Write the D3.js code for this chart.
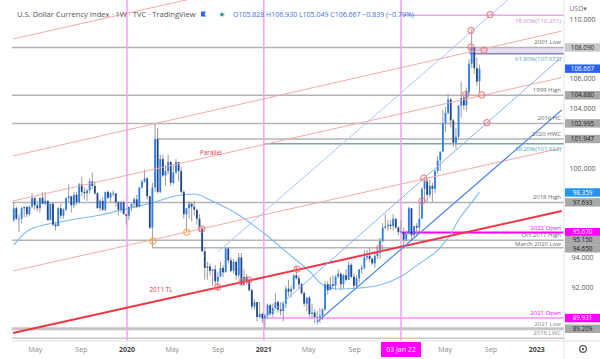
<!DOCTYPE html>
<html><head><meta charset="utf-8">
<script src="https://cdn.jsdelivr.net/npm/d3@7"></script>
<style>
body{margin:0;background:#fff;}
svg{display:block;font-family:"Open Sans","DejaVu Sans",sans-serif;}
</style></head><body>
<svg id="c" width="600" height="359"></svg>
<script>
// ---------- DATA ----------
const firstWeek = "2019-03-04";
const lastWeek = "2022-08-01";
const opens = [96.5,97.3,96.6,96.6,97.3,97.4,96.9,97.4,98.0,97.5,97.3,98.0,97.6,97.8,96.5,97.6,96.2,96.1,97.3,96.8,97.2,98.0,98.1,97.5,98.2,97.7,98.9,98.4,98.3,98.5,99.1,98.8,98.3,97.3,97.8,97.2,98.4,98.0,98.3,98.3,97.7,97.2,97.7,96.9,
96.8,97.4,97.6,97.9,97.4,98.7,99.1,99.3,98.1,96.0,98.7,101.95,98.4,100.6,99.5,99.8,100.4,99.0,99.7,100.4,99.8,98.4,96.9,97.3,97.6,97.4,97.2,96.6,96.0,94.4,93.3,93.4,93.1,93.2,92.4,92.7,93.3,93.0,94.6,93.8,93.1,93.7,92.8,94.0,92.2,92.7,92.4,91.8,90.7,91.0,90.0,90.2,
89.9,90.1,90.8,90.2,90.6,91.0,90.5,90.4,90.9,91.9,91.7,91.9,92.8,92.6,92.2,91.6,90.9,91.3,90.2,90.3,90.0,90.0,90.1,90.5,92.2,91.8,92.2,92.1,92.7,92.9,92.2,92.8,92.5,93.5,92.7,92.1,92.6,93.2,93.3,94.0,94.1,93.9,93.6,94.1,94.3,95.1,96.0,96.1,96.2,96.1,96.6,96.0,
95.67,95.7,95.2,95.6,97.3,95.5,96.1,96.0,96.6,98.6,99.1,98.2,98.8,98.6,99.8,100.5,101.1,103.0,103.7,104.6,103.2,101.7,102.1,104.2,104.7,104.2,105.1,107.0,108.1,106.7,105.828];
const highs = [97.7,97.4,96.9,97.4,97.4,97.4,97.5,98.3,98.0,97.8,98.0,98.4,98.4,97.8,97.6,97.7,96.4,97.4,97.6,97.3,98.0,98.9,98.1,98.4,98.4,99.0,99.4,98.7,98.6,99.3,99.7,99.1,98.4,97.9,98.0,98.4,98.5,98.4,98.5,98.3,97.8,97.8,97.8,96.9,
97.4,97.6,98.0,98.2,98.7,99.2,99.9,99.4,98.1,99.0,102.99,102.7,100.9,100.9,100.2,100.9,100.5,100.2,100.6,100.4,100.1,98.5,97.3,97.8,97.7,97.8,97.2,96.9,96.0,94.7,93.7,93.6,93.2,93.5,93.0,93.7,93.5,94.7,94.7,94.0,93.9,93.8,94.3,94.3,93.2,92.9,92.6,91.9,91.2,91.0,91.0,90.3,
90.2,90.9,90.9,90.9,91.6,91.1,91.0,91.0,92.1,92.5,92.1,92.9,93.4,92.8,92.3,91.7,91.3,91.4,90.9,90.5,90.4,90.6,90.6,92.4,92.4,92.7,92.8,92.8,93.2,93.0,92.9,93.2,93.7,93.6,92.9,92.8,93.2,93.5,94.5,94.5,94.6,94.0,94.3,94.6,95.3,96.3,96.9,96.5,96.5,96.9,96.6,96.1,
96.5,96.0,95.8,97.4,97.3,96.1,96.3,97.7,98.7,99.4,99.3,99.2,99.0,99.9,100.8,101.1,103.9,104.1,105.0,104.7,103.3,102.7,104.2,105.8,104.8,105.4,107.3,109.3,108.1,107.4,106.93];
const lows = [96.4,96.5,95.7,96.3,96.7,96.7,96.8,97.3,97.2,97.1,97.0,97.6,97.5,96.5,96.5,96.1,95.8,96.1,96.6,96.6,97.1,97.7,97.0,97.3,97.5,97.6,98.1,97.9,97.8,98.3,98.6,98.2,97.3,97.1,97.1,97.1,97.9,97.7,98.1,97.4,96.8,97.0,96.9,96.2,
96.5,97.1,97.3,97.3,97.4,98.6,99.0,97.9,95.9,94.65,98.4,98.3,98.3,99.4,98.8,99.6,98.8,98.9,99.6,99.1,98.3,96.6,95.7,96.6,96.4,96.8,96.2,95.7,94.4,92.5,92.5,92.8,92.1,92.1,91.75,92.7,92.7,93.0,93.6,93.0,92.9,92.5,92.6,92.1,92.1,92.2,91.7,90.5,90.5,89.7,89.9,89.6,
89.2,89.9,90.1,90.0,90.6,90.3,90.1,89.7,90.6,91.4,91.3,91.8,92.5,91.9,91.5,90.7,90.4,89.98,89.9,89.6,89.5,89.6,89.8,90.4,91.5,91.8,91.9,91.8,92.6,91.8,91.9,92.4,92.5,92.6,91.9,92.0,92.3,92.9,93.2,93.8,93.7,93.5,93.3,93.9,93.9,95.0,95.9,95.8,95.9,95.8,95.9,95.5,
95.67,94.6,95.0,95.6,95.1,95.3,95.5,95.7,96.6,97.7,97.7,98.0,97.7,98.3,99.6,99.8,101.1,102.4,103.6,102.7,101.4,101.3,101.9,103.4,103.9,103.8,104.9,106.7,106.3,105.5,105.049];
const closes = [97.3,96.6,96.6,97.3,97.4,96.9,97.4,98.0,97.5,97.3,98.0,97.6,97.8,96.5,97.6,96.2,96.1,97.3,96.8,97.2,98.0,98.1,97.5,98.2,97.7,98.9,98.4,98.3,98.5,99.1,98.8,98.3,97.3,97.8,97.2,98.4,98.0,98.3,98.3,97.7,97.2,97.7,96.9,96.8,
97.4,97.6,97.9,97.4,98.7,99.1,99.3,98.1,96.0,98.7,101.95,98.4,100.6,99.5,99.8,100.4,99.0,99.7,100.4,99.8,98.4,96.9,97.3,97.6,97.4,97.2,96.6,96.0,94.4,93.3,93.4,93.1,93.2,92.4,92.7,93.3,93.0,94.6,93.8,93.1,93.7,92.8,94.0,92.2,92.7,92.4,91.8,90.7,91.0,90.0,90.2,89.9,
90.1,90.8,90.2,90.6,91.0,90.5,90.4,90.9,91.9,91.7,91.9,92.8,92.6,92.2,91.6,90.9,91.3,90.2,90.3,90.0,90.0,90.1,90.5,92.2,91.8,92.2,92.1,92.7,92.9,92.2,92.8,92.5,93.5,92.7,92.1,92.6,93.2,93.3,94.0,94.1,93.9,93.6,94.1,94.3,95.1,96.0,96.1,96.2,96.1,96.6,96.0,95.7,
95.74,95.2,95.6,97.3,95.5,96.1,96.0,96.6,98.6,99.1,98.2,98.8,98.6,99.8,100.5,101.1,103.0,103.7,104.6,103.2,101.7,102.1,104.2,104.7,104.2,105.1,107.0,108.1,106.7,105.8,106.667];

// 52-week moving average
const maDates = ["2019-03-04","2019-04-14","2019-07-06","2019-10-21","2020-01-09","2020-03-16","2020-05-08","2020-07-01","2020-08-10","2020-10-29","2021-01-04","2021-03-12","2021-05-05","2021-06-08","2021-07-16","2021-09-15","2021-11-08","2021-12-31","2022-02-23","2022-04-17","2022-05-14","2022-06-09","2022-07-06","2022-08-01"];
const maValues = [94.83,95.84,96.38,96.85,97.32,97.72,98.12,98.26,97.85,96.80,95.57,94.16,93.02,92.15,91.88,91.95,92.15,92.68,93.62,94.63,95.50,96.64,97.52,98.36];

// horizontal levels
const levelNames  = ["78.60%(110.251)","2001 Low","1999 High","2016 HC","2020 HWC","38.20%(101.622)","2018 High","2022 Open","Oct 2017 High","March 2020 Low","2021 Open","2021 Low","2018 LWC"];
const levelPrices = [110.251,108.090,104.880,102.995,101.947,101.622,97.693,95.670,95.150,94.650,89.931,89.209,88.57];
const levelStarts = ["2022-01-03",null,null,null,"2020-03-23","2021-01-04",null,"2022-01-03",null,"2020-03-09","2021-01-01",null,null];

// fib zone (61.8%)
const zoneName = "61.80%(107.672)";
const zoneTop = 108.090, zoneBottom = 107.672;
const zoneStart = "2022-07-06", zoneEnd = "2023-06-01";

// price-axis tags
const tagPrices = [94.650,95.150,95.670,89.209,89.931,97.693,98.359,101.947,102.995,104.880,106.667,108.090];
const tagKinds  = ["gray","gray","magenta","gray","magenta","gray","ma","gray","gray","gray","last","light"];
const priceTicks = [90,92,94,96,98,100,102,104,106,108,110];

// trend lines [date, price] -> [date, price]
const trendNames = ["P1","P2","P3","P4","TL","BLtop","BLmid","BLlow"];
const trendStartDates = ["2019-03-02","2019-03-02","2019-03-02","2019-03-02","2019-03-02","2020-08-31","2020-12-27","2021-05-23"];
const trendStartPrices = [108.66,100.81,97.79,93.09,88.93,94.36,89.73,89.66];
const trendEndDates = ["2023-03-09","2023-03-09","2023-03-09","2023-03-09","2023-03-09","2022-10-16","2023-03-09","2023-03-09"];
const trendEndPrices = [116.95,109.19,106.07,101.34,97.11,111.28,107.45,103.89];

// annotation circles
const circleDates  = ["2020-07-19","2020-08-31","2020-11-03","2020-11-22","2021-03-31","2021-11-07","2022-02-28","2022-03-05","2022-06-25","2022-08-07","2022-07-09","2022-07-09","2022-08-13","2022-08-29","2022-08-21","2020-03-10","2020-06-09"];
const circlePrices = [95.91,92.01,92.35,92.48,93.22,94.63,97.79,99.33,104.93,104.90,109.23,108.12,107.92,110.29,103.04,95.10,95.70];
const circleKinds  = ["r","r","r","r","r","r","r","r","r","r","r","r","r","r","r","o","o"];

// vertical markers
const vlineDates = ["2020-01-01","2021-01-01","2022-01-03"];

// time axis
const timeTickDates  = ["2019-05-01","2019-09-01","2020-01-01","2020-05-01","2020-09-01","2021-01-01","2021-05-01","2021-09-01","2022-05-01","2022-09-01","2023-01-01"];
const timeTickLabels = ["May","Sep","2020","May","Sep","2021","May","Sep","May","Sep","2023"];
const markerDate = "2022-01-03", markerLabel = "03 Jan 22";

const textNotes = ["Parallel","2011 TL"];
const noteDates = ["2020-07-14","2020-03-01"];
const notePrices = [100.9,91.7];

const headerTitle = "U.S. Dollar Currency Index · 1W · TVC · TradingView";
const headerOHLC = "O105.828 H106.930 L105.049 C106.667 −0.839 (−0.79%)";

// ---------- STYLES ----------
const GRAY = {color:"#b4b4b4", w:1.5, label:"#6a6a6a", pos:"above"};
const levelStyle = {
  "78.60%(110.251)": {color:"#e8a8e8", w:1.5, label:"#c98bd6", pos:"below"},
  "2001 Low": GRAY, "1999 High": GRAY, "2016 HC": GRAY, "2020 HWC": GRAY,
  "38.20%(101.622)": {color:"#78a6ae", w:1.5, label:"#4a9fc4", pos:"below"},
  "2018 High": GRAY,
  "2022 Open": {color:"#ff00ff", w:2, label:"#ff00ff", pos:"above"},
  "Oct 2017 High": {color:"#b4b4b4", w:1.5, label:"#6a6a6a", pos:"above", dy:-0.6},
  "March 2020 Low": {color:"#b4b4b4", w:1.5, label:"#6a6a6a", pos:"above", dy:1},
  "2021 Open": {color:"#ff8cff", w:1.5, label:"#ff00ff", pos:"above"},
  "2021 Low": {color:"#c4c4c4", w:3, label:"#8a8a8a", pos:"above"},
  "2018 LWC": {color:"#c8c8c8", w:1.5, label:"#8a8a8a", pos:"above"}
};
const tagStyle = {
  gray:{bg:"#a8a8a8", fg:"#1e1e1e"}, light:{bg:"#c9c9c9", fg:"#1e1e1e"},
  magenta:{bg:"#ff00ff", fg:"#ffffff"}, ma:{bg:"#2196f3", fg:"#ffffff"}, last:{bg:"#2962ff", fg:"#ffffff"}
};
const trendStyle = {
  P1:{c:"#f7a9a9",w:1}, P2:{c:"#f7a9a9",w:1}, P3:{c:"#f7a9a9",w:1}, P4:{c:"#f7a9a9",w:1},
  TL:{c:"#f23645",w:2}, BLtop:{c:"#a9c7f5",w:1}, BLmid:{c:"#8ab3f0",w:1}, BLlow:{c:"#4f88e6",w:1.2}
};

// ---------- CHART ----------
const W = 600, H = 359, L = 12, R = 564, T = 0, B = 341;
const P = s => new Date(s + "T00:00:00Z");
const svg = d3.select("#c");
svg.append("rect").attr("width", W).attr("height", H).attr("fill", "#fff");

const x = d3.scaleUtc().domain([P("2020-01-01"), P("2022-01-03")]).range([127, 401]);
const y = d3.scaleLinear().domain([88.39, 111.275]).range([B, T]);

svg.append("defs").append("clipPath").attr("id", "plot")
  .append("rect").attr("x", L).attr("y", T).attr("width", R - L).attr("height", B - T);
const g = svg.append("g").attr("clip-path", "url(#plot)");

// fib zone
g.append("rect")
  .attr("x", x(P(zoneStart))).attr("width", x(P(zoneEnd)) - x(P(zoneStart)))
  .attr("y", y(zoneTop)).attr("height", y(zoneBottom) - y(zoneTop))
  .attr("fill", "#e6dcf3");
g.append("line").attr("x1", x(P(zoneStart))).attr("x2", x(P(zoneEnd)))
  .attr("y1", y(zoneBottom)).attr("y2", y(zoneBottom)).attr("stroke", "#7f86c4").attr("stroke-width", 1.6);
g.append("line").attr("x1", x(P(zoneStart))).attr("x2", x(P(zoneStart)))
  .attr("y1", y(zoneTop)).attr("y2", y(zoneBottom)).attr("stroke", "#b9a6dc").attr("stroke-width", 1);

// level lines
const levels = levelNames.map((n, i) => ({name: n, price: levelPrices[i], start: levelStarts[i]}));
g.selectAll("line.lvl").data(levels).join("line").attr("class", "lvl")
  .attr("x1", d => d.start ? x(P(d.start)) : L).attr("x2", R)
  .attr("y1", d => y(d.price)).attr("y2", d => y(d.price))
  .attr("stroke", d => levelStyle[d.name].color).attr("stroke-width", d => levelStyle[d.name].w);

// vertical markers
g.selectAll("line.vl").data(vlineDates).join("line").attr("class", "vl")
  .attr("x1", d => x(P(d))).attr("x2", d => x(P(d))).attr("y1", T).attr("y2", B)
  .attr("stroke", "#f6a6f6").attr("stroke-width", 1.6);

// MA
const ma = maDates.map((d, i) => ({d: P(d), v: maValues[i]}));
g.append("path").datum(ma)
  .attr("d", d3.line().x(d => x(d.d)).y(d => y(d.v)).curve(d3.curveMonotoneX))
  .attr("fill", "none").attr("stroke", "#7dbbf2").attr("stroke-width", 1.1);

// candles
const weeks = d3.utcMonday.range(P(firstWeek), d3.utcDay.offset(P(lastWeek), 1));
const candles = weeks.map((d, i) => ({d, o: opens[i], h: highs[i], l: lows[i], c: closes[i]}));
const bw = (x(P("2020-01-08")) - x(P("2020-01-01"))) * 0.7;
const cg = g.append("g");
cg.selectAll("line.wick").data(candles).join("line").attr("class", "wick")
  .attr("x1", d => x(d.d)).attr("x2", d => x(d.d))
  .attr("y1", d => y(d.h)).attr("y2", d => y(d.l))
  .attr("stroke", "#9c9c9c").attr("stroke-width", 1);
cg.selectAll("rect.body").data(candles).join("rect").attr("class", "body")
  .attr("x", d => x(d.d) - bw / 2).attr("width", bw)
  .attr("y", d => y(Math.max(d.o, d.c)))
  .attr("height", d => Math.max(0.8, Math.abs(y(d.o) - y(d.c))))
  .attr("fill", d => d.c >= d.o ? "#2d7ff0" : "#24488a");

// trend lines
const trends = trendNames.map((n, i) => ({n, x1: P(trendStartDates[i]), y1: trendStartPrices[i], x2: P(trendEndDates[i]), y2: trendEndPrices[i]}));
g.selectAll("line.tr").data(trends).join("line").attr("class", "tr")
  .attr("x1", d => x(d.x1)).attr("y1", d => y(d.y1)).attr("x2", d => x(d.x2)).attr("y2", d => y(d.y2))
  .attr("stroke", d => trendStyle[d.n].c).attr("stroke-width", d => trendStyle[d.n].w);

// circles
const circles = circleDates.map((d, i) => ({d: P(d), p: circlePrices[i], k: circleKinds[i]}));
g.selectAll("circle.ann").data(circles).join("circle").attr("class", "ann")
  .attr("cx", d => x(d.d)).attr("cy", d => y(d.p)).attr("r", 3.2)
  .attr("fill", d => d.k === "r" ? "rgba(242,120,120,0.15)" : "rgba(243,166,64,0.12)")
  .attr("stroke", d => d.k === "r" ? "#f07676" : "#f2a440").attr("stroke-width", 1);

// level labels
const lblX = R - 3;
svg.selectAll("text.lvl").data(levels).join("text").attr("class", "lvl")
  .attr("x", lblX)
  .attr("y", d => {
    const s = levelStyle[d.name];
    return (s.pos === "above" ? y(d.price) - 3 : y(d.price) + 7.5) + (s.dy || 0);
  })
  .attr("text-anchor", "end").attr("font-size", 6)
  .attr("fill", d => levelStyle[d.name].label).text(d => d.name);
svg.append("text").attr("x", lblX).attr("y", y(zoneBottom) + 7.5).attr("text-anchor", "end")
  .attr("font-size", 6).attr("fill", "#4a9fc4").text(zoneName);

// notes
const noteColor = "#f23645";
svg.selectAll("text.note").data(textNotes).join("text").attr("class", "note")
  .attr("x", (d, i) => x(P(noteDates[i]))).attr("y", (d, i) => y(notePrices[i]))
  .attr("font-size", 6.4).attr("fill", noteColor).text(d => d);

// axes frame
svg.append("line").attr("x1", R).attr("x2", R).attr("y1", 0).attr("y2", H).attr("stroke", "#e2e2e2");
svg.append("line").attr("x1", L).attr("x2", W).attr("y1", B).attr("y2", B).attr("stroke", "#e2e2e2");

// price axis ticks (those hidden behind a tag are skipped)
const freeTicks = priceTicks.filter(t => tagPrices.every(p => Math.abs(y(p) - y(t)) > 9));
const ya = svg.append("g").attr("transform", `translate(${R},0)`)
  .call(d3.axisRight(y).tickValues(freeTicks).tickSize(0).tickPadding(0).tickFormat(d3.format(".3f")));
ya.select(".domain").remove();
ya.selectAll("text").attr("x", 600 - R - 17.5).attr("text-anchor", "middle")
  .attr("font-size", 7).attr("fill", "#555").attr("font-family", '"Open Sans","DejaVu Sans",sans-serif');

// price tags, nudged apart so they do not cover each other
const TAGH = 8.4;
const tags = tagPrices.map((p, i) => ({p, k: tagKinds[i], ty: y(p)})).sort((a, b) => a.ty - b.ty);
for (let i = 1; i < tags.length; i++) {
  if (tags[i].ty - tags[i - 1].ty < TAGH) {
    const need = TAGH - (tags[i].ty - tags[i - 1].ty);
    tags[i - 1].ty -= need / 2; tags[i].ty += need / 2;
  }
}
const tg = svg.selectAll("g.tag").data(tags).join("g").attr("class", "tag")
  .attr("transform", d => `translate(${R + 1},${d.ty})`);
tg.append("rect").attr("x", 0).attr("y", -TAGH / 2).attr("width", W - R - 1).attr("height", TAGH)
  .attr("fill", d => tagStyle[d.k].bg);
tg.append("text").attr("x", (W - R - 1) / 2).attr("y", 2.2).attr("text-anchor", "middle")
  .attr("font-size", 6.3).attr("fill", d => tagStyle[d.k].fg).text(d => d3.format(".3f")(d.p));

svg.append("text").attr("x", 578).attr("y", 10.5).attr("text-anchor", "middle")
  .attr("font-size", 7).attr("fill", "#777").text("USD▾");

// time axis
const xa = svg.append("g");
xa.selectAll("text").data(timeTickDates).join("text")
  .attr("x", d => x(P(d))).attr("y", 351.5).attr("text-anchor", "middle")
  .attr("font-size", 7)
  .attr("font-weight", (d, i) => /^\d{4}$/.test(timeTickLabels[i]) ? "bold" : "normal")
  .attr("fill", (d, i) => /^\d{4}$/.test(timeTickLabels[i]) ? "#444" : "#888")
  .text((d, i) => timeTickLabels[i]);
const mx = x(P(markerDate));
svg.append("rect").attr("x", mx - 20).attr("y", B + 1).attr("width", 40).attr("height", 15).attr("fill", "#ff00ff");
svg.append("text").attr("x", mx).attr("y", 351.5).attr("text-anchor", "middle")
  .attr("font-size", 7).attr("fill", "#fff").text(markerLabel);

// gear
const gear = svg.append("g").attr("transform", "translate(583,349)");
gear.append("circle").attr("r", 3.4).attr("fill", "none").attr("stroke", "#666").attr("stroke-width", 1.3);
gear.append("circle").attr("r", 1.2).attr("fill", "#666");

// header
svg.append("text").attr("x", 17).attr("y", 17).attr("font-size", 7.6).attr("fill", "#555").text(headerTitle);
svg.append("path").attr("d", "M201,11.5h5l-1.5,2.5l1.5,2.5h-5z").attr("fill", "#2962ff");
svg.append("circle").attr("cx", 222).attr("cy", 14.5).attr("r", 3).attr("fill", "#e4e4e4");
svg.append("circle").attr("cx", 222).attr("cy", 14.5).attr("r", 1.6).attr("fill", "#089981");
svg.append("text").attr("x", 233).attr("y", 17).attr("font-size", 7).attr("fill", "#3a6fe0").text(headerOHLC);
</script>
</body></html>
